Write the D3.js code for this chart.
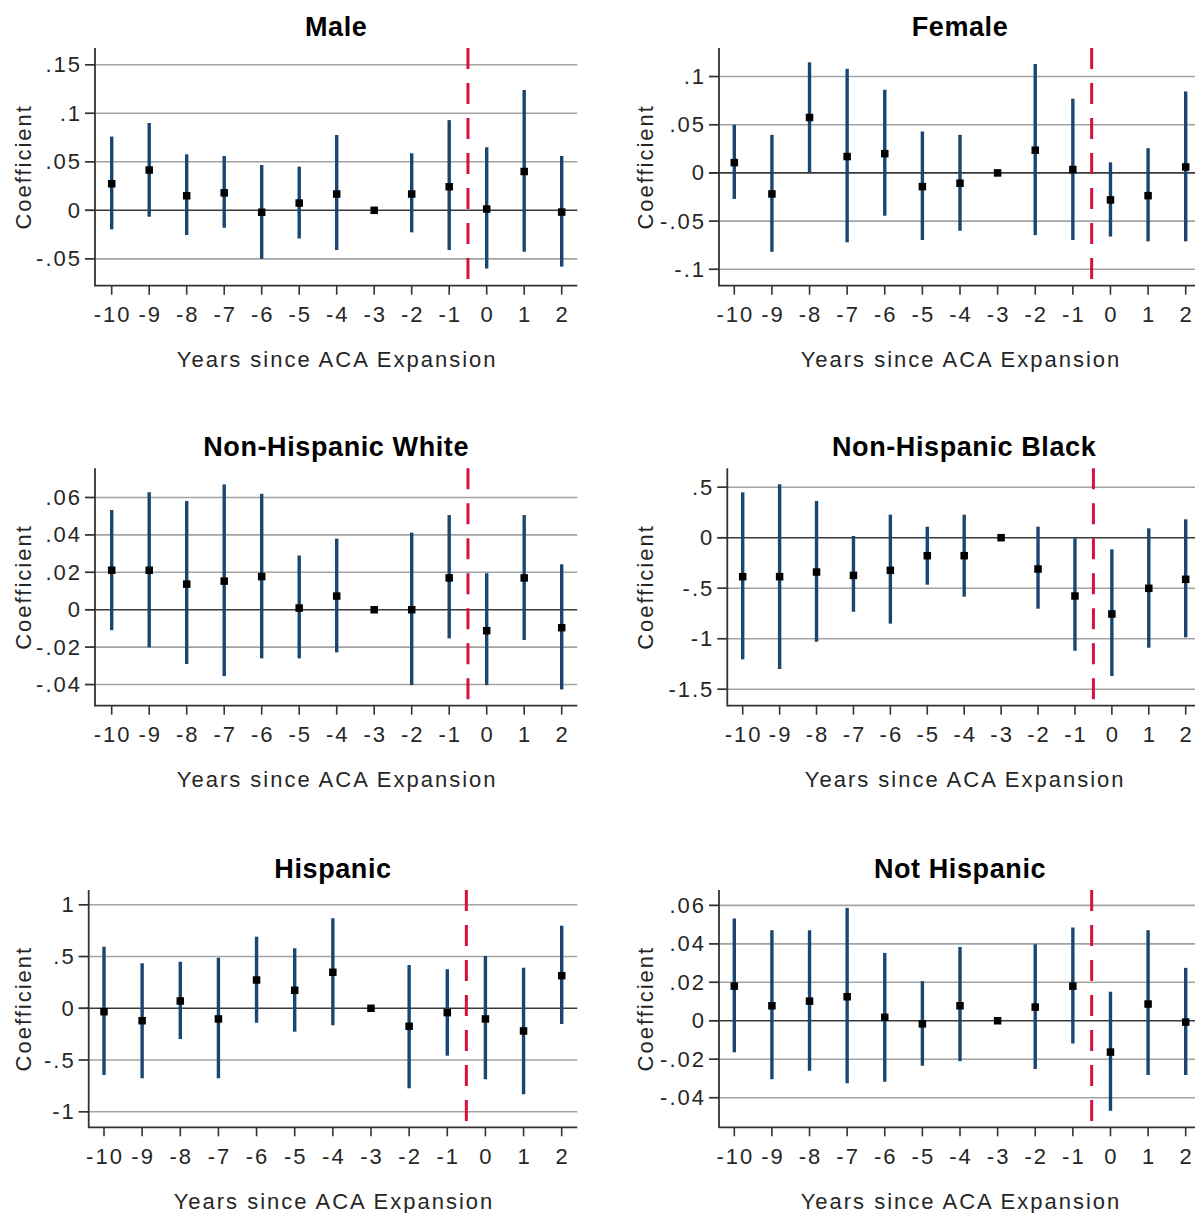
<!DOCTYPE html>
<html>
<head>
<meta charset="utf-8">
<script src="https://cdn.jsdelivr.net/npm/d3@7"></script>
<style>
  html, body { margin: 0; padding: 0; background: #fff; }
  svg { display: block; }
  text { font-family: "Liberation Sans", Arial, sans-serif; fill: #262626; }
</style>
</head>
<body>
<svg id="chart" width="1195" height="1213"></svg>
<script>
// ---------------- DATA ----------------
const years = [-10, -9, -8, -7, -6, -5, -4, -3, -2, -1, 0, 1, 2];
const xTickLabels = ["-10", "-9", "-8", "-7", "-6", "-5", "-4", "-3", "-2", "-1", "0", "1", "2"];

const maleCoef = [0.0274, 0.0415, 0.015, 0.018, -0.002, 0.0075, 0.0168, 0, 0.0168, 0.0243, 0.0013, 0.040, -0.0018];
const maleLo   = [-0.0196, -0.0066, -0.0255, -0.018, -0.050, -0.029, -0.041, null, -0.0227, -0.041, -0.060, -0.0427, -0.058];
const maleHi   = [0.076, 0.090, 0.0577, 0.056, 0.0467, 0.045, 0.0776, null, 0.0588, 0.093, 0.065, 0.124, 0.056];
const maleTicks = [-0.05, 0, 0.05, 0.1, 0.15];
const maleTickLabels = ["-.05", "0", ".05", ".1", ".15"];

const femaleCoef = [0.0107, -0.0218, 0.0575, 0.017, 0.020, -0.0142, -0.0107, 0, 0.0236, 0.0035, -0.028, -0.0236, 0.0062];
const femaleLo   = [-0.027, -0.0818, 0.0005, -0.072, -0.0444, -0.0696, -0.060, null, -0.0645, -0.0696, -0.066, -0.071, -0.071];
const femaleHi   = [0.050, 0.0395, 0.1147, 0.108, 0.0863, 0.043, 0.0395, null, 0.113, 0.077, 0.011, 0.0257, 0.0845];
const femaleTicks = [-0.1, -0.05, 0, 0.05, 0.1];
const femaleTickLabels = ["-.1", "-.05", "0", ".05", ".1"];

const nhwCoef = [0.0211, 0.0211, 0.0137, 0.0153, 0.0177, 0.0009, 0.0073, 0, 0.0, 0.017, -0.0112, 0.017, -0.0096];
const nhwLo   = [-0.0109, -0.0201, -0.029, -0.0355, -0.026, -0.026, -0.0228, null, -0.0403, -0.0153, -0.0403, -0.0162, -0.0426];
const nhwHi   = [0.0533, 0.0628, 0.0581, 0.067, 0.062, 0.029, 0.038, null, 0.0412, 0.0506, 0.0195, 0.0506, 0.0243];
const nhwTicks = [-0.04, -0.02, 0, 0.02, 0.04, 0.06];
const nhwTickLabels = ["-.04", "-.02", "0", ".02", ".04", ".06"];

const nhbCoef = [-0.386, -0.386, -0.34, -0.373, -0.323, -0.178, -0.178, 0, -0.31, -0.577, -0.755, -0.501, -0.412];
const nhbLo   = [-1.204, -1.30, -1.03, -0.733, -0.851, -0.465, -0.584, null, -0.703, -1.119, -1.369, -1.089, -0.986];
const nhbHi   = [0.449, 0.529, 0.363, 0.017, 0.228, 0.109, 0.228, null, 0.109, -0.006, -0.115, 0.093, 0.182];
const nhbTicks = [-1.5, -1, -0.5, 0, 0.5];
const nhbTickLabels = ["-1.5", "-1", "-.5", "0", ".5"];

const hispCoef = [-0.033, -0.12, 0.0705, -0.103, 0.273, 0.174, 0.348, 0, -0.174, -0.042, -0.103, -0.219, 0.315];
const hispLo   = [-0.644, -0.676, -0.297, -0.676, -0.139, -0.226, -0.164, null, -0.773, -0.458, -0.686, -0.831, -0.152];
const hispHi   = [0.595, 0.435, 0.45, 0.489, 0.692, 0.58, 0.87, null, 0.418, 0.377, 0.505, 0.392, 0.798];
const hispTicks = [-1, -0.5, 0, 0.5, 1];
const hispTickLabels = ["-1", "-.5", "0", ".5", "1"];

const nothispCoef = [0.018, 0.0078, 0.0102, 0.0125, 0.0018, -0.0016, 0.0078, 0, 0.0071, 0.018, -0.0163, 0.0087, -0.0007];
const nothispLo   = [-0.0164, -0.0304, -0.026, -0.0325, -0.0317, -0.0234, -0.021, null, -0.0251, -0.0118, -0.0468, -0.0282, -0.0282];
const nothispHi   = [0.0532, 0.0471, 0.0471, 0.0587, 0.0353, 0.0206, 0.0384, null, 0.0398, 0.0485, 0.0151, 0.0471, 0.0275];
const nothispTicks = [-0.04, -0.02, 0, 0.02, 0.04, 0.06];
const nothispTickLabels = ["-.04", "-.02", "0", ".02", ".04", ".06"];

const expansionLine = -0.5;

// ---------------- LAYOUT ----------------
const panels = [
  { title: "Male", coef: maleCoef, lo: maleLo, hi: maleHi, ticks: maleTicks, tickLabels: maleTickLabels,
    yDomain: [-0.0777, 0.1673], left: 95, x0: 111.7, x1: 561.7, right: 577.3, top: 48, bottom: 285.7, panelLeft: 0 },
  { title: "Female", coef: femaleCoef, lo: femaleLo, hi: femaleHi, ticks: femaleTicks, tickLabels: femaleTickLabels,
    yDomain: [-0.117, 0.1296], left: 719, x0: 734.3, x1: 1185.7, right: 1201, top: 48, bottom: 285.7, panelLeft: 622 },
  { title: "Non-Hispanic White", coef: nhwCoef, lo: nhwLo, hi: nhwHi, ticks: nhwTicks, tickLabels: nhwTickLabels,
    yDomain: [-0.0513, 0.0756], left: 95, x0: 111.7, x1: 561.7, right: 577.3, top: 468.3, bottom: 705.7, panelLeft: 0 },
  { title: "Non-Hispanic Black", coef: nhbCoef, lo: nhbLo, hi: nhbHi, ticks: nhbTicks, tickLabels: nhbTickLabels,
    yDomain: [-1.663, 0.687], left: 727.3, x0: 742.7, x1: 1185.7, right: 1201, top: 468.3, bottom: 705.7, panelLeft: 622 },
  { title: "Hispanic", coef: hispCoef, lo: hispLo, hi: hispHi, ticks: hispTicks, tickLabels: hispTickLabels,
    yDomain: [-1.150, 1.143], left: 88.7, x0: 104, x1: 561.7, right: 577.3, top: 890, bottom: 1127.3, panelLeft: 0 },
  { title: "Not Hispanic", coef: nothispCoef, lo: nothispLo, hi: nothispHi, ticks: nothispTicks, tickLabels: nothispTickLabels,
    yDomain: [-0.0554, 0.068], left: 719, x0: 734.3, x1: 1185.7, right: 1201, top: 890, bottom: 1127.3, panelLeft: 622 }
];

const svg = d3.select("#chart");
const ciColor = "#1a476f";
const gridColor = "#a3a3a3";
const axisColor = "#333";
const fontSize = 22;
const letterSp = 2;

panels.forEach(p => {
  const g = svg.append("g");
  const x = d3.scaleLinear().domain([years[0], years[years.length - 1]]).range([p.x0, p.x1]);
  const y = d3.scaleLinear().domain(p.yDomain).range([p.bottom, p.top]);
  const midX = (p.left + p.right) / 2;

  // gridlines + y ticks (extend left of axis)
  p.ticks.forEach((t, i) => {
    g.append("line")
      .attr("x1", p.left - 10).attr("x2", p.right)
      .attr("y1", y(t)).attr("y2", y(t))
      .attr("stroke", t === 0 ? "#3a3a3a" : gridColor)
      .attr("stroke-width", 1.6);
    g.append("line")
      .attr("x1", p.left - 10).attr("x2", p.left)
      .attr("y1", y(t)).attr("y2", y(t))
      .attr("stroke", axisColor).attr("stroke-width", 1.6);
    g.append("text")
      .attr("x", p.left - 15 + letterSp).attr("y", y(t))
      .attr("text-anchor", "end").attr("dominant-baseline", "central")
      .attr("font-size", fontSize).style("letter-spacing", letterSp + "px")
      .text(p.tickLabels[i]);
  });

  // axes
  g.append("line").attr("x1", p.left).attr("x2", p.left).attr("y1", p.top).attr("y2", p.bottom + 0.8)
    .attr("stroke", axisColor).attr("stroke-width", 1.8);
  g.append("line").attr("x1", p.left).attr("x2", p.right).attr("y1", p.bottom).attr("y2", p.bottom)
    .attr("stroke", axisColor).attr("stroke-width", 1.8);

  // x ticks
  years.forEach((yr, i) => {
    g.append("line").attr("x1", x(yr)).attr("x2", x(yr)).attr("y1", p.bottom).attr("y2", p.bottom + 9)
      .attr("stroke", axisColor).attr("stroke-width", 1.6);
    g.append("text")
      .attr("x", x(yr) + letterSp / 2).attr("y", p.bottom + 29)
      .attr("text-anchor", "middle").attr("dominant-baseline", "central")
      .attr("font-size", fontSize).style("letter-spacing", letterSp + "px")
      .text(xTickLabels[i]);
  });

  // expansion line
  g.append("line")
    .attr("x1", x(expansionLine)).attr("x2", x(expansionLine))
    .attr("y1", p.top).attr("y2", p.bottom)
    .attr("stroke", "#d4123b").attr("stroke-width", 3)
    .attr("stroke-dasharray", "21,14");

  // CIs
  years.forEach((yr, i) => {
    if (p.lo[i] === null) return;
    g.append("line")
      .attr("x1", x(yr)).attr("x2", x(yr))
      .attr("y1", y(p.lo[i])).attr("y2", y(p.hi[i]))
      .attr("stroke", ciColor).attr("stroke-width", 3.4);
  });
  // points
  const ms = 7.5;
  years.forEach((yr, i) => {
    g.append("rect")
      .attr("x", x(yr) - ms / 2).attr("y", y(p.coef[i]) - ms / 2)
      .attr("width", ms).attr("height", ms)
      .attr("fill", "#000");
  });

  // title
  g.append("text")
    .attr("x", midX).attr("y", p.top - 21)
    .attr("text-anchor", "middle").attr("dominant-baseline", "central")
    .attr("font-size", 27).attr("font-weight", "bold").style("letter-spacing", "0.6px")
    .style("fill", "#000")
    .text(p.title);

  // axis titles
  g.append("text")
    .attr("x", midX + letterSp / 2).attr("y", p.bottom + 74)
    .attr("text-anchor", "middle").attr("dominant-baseline", "central")
    .attr("font-size", fontSize).style("letter-spacing", letterSp + "px")
    .text("Years since ACA Expansion");
  const cy = (p.top + p.bottom) / 2;
  g.append("text")
    .attr("transform", `translate(${p.panelLeft + 23},${cy}) rotate(-90)`)
    .attr("text-anchor", "middle").attr("dominant-baseline", "central")
    .attr("font-size", fontSize).style("letter-spacing", letterSp + "px")
    .text("Coefficient");
});
</script>
</body>
</html>
